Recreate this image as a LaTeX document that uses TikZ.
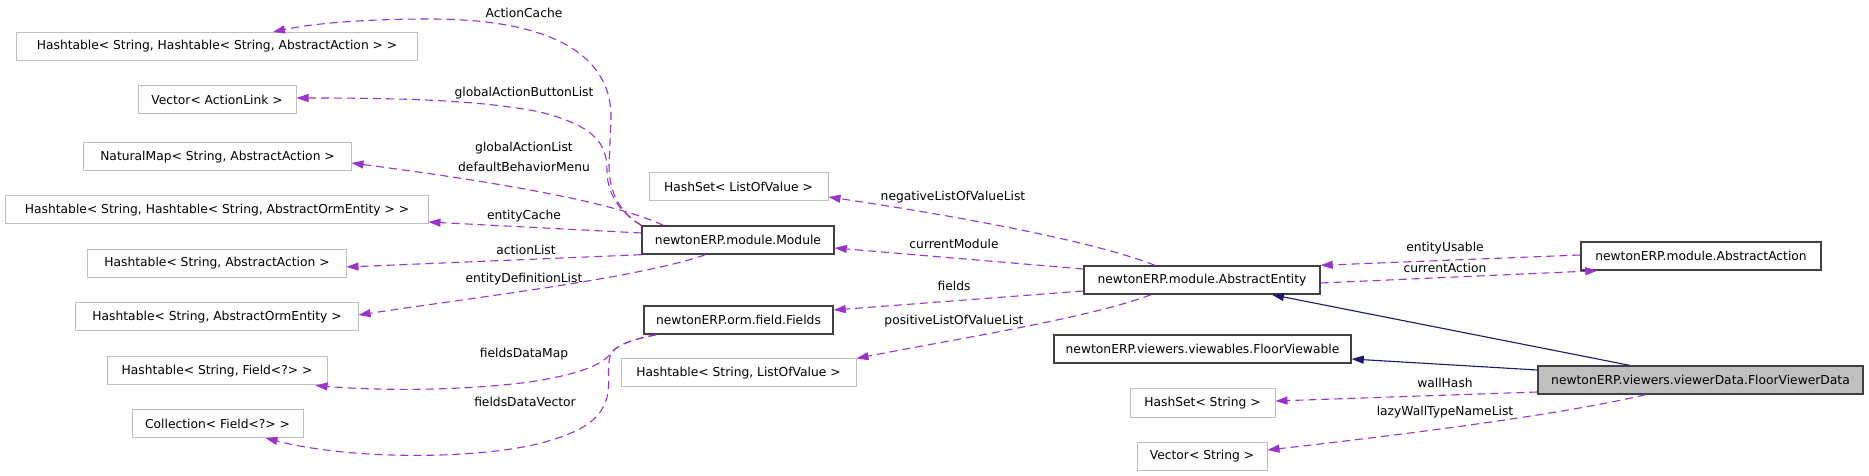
\documentclass[tikz,border=0pt]{standalone}
\usepackage{fontspec}
\setmainfont{DejaVu Sans}
\usetikzlibrary{arrows.meta,calc}
\definecolor{usecol}{RGB}{154,50,205}
\definecolor{inhcol}{RGB}{25,25,112}
\definecolor{extcol}{RGB}{191,191,191}
\definecolor{clscol}{RGB}{64,64,64}
\begin{document}
\begin{tikzpicture}[x=1bp,y=-1bp,
  every node/.style={font=\fontsize{12.3bp}{14bp}\selectfont, inner sep=0pt},
  box/.style={draw, minimum height=28bp, line width=1bp},
  extbox/.style={box, draw=extcol},
  clsbox/.style={box, draw=clscol, line width=1.4bp},
  usearrow/.style={draw=usecol, line width=1.1bp, dash pattern=on 8bp off 5bp,
    -{Triangle[length=12bp,width=8bp,fill=usecol]}},
  inharrow/.style={draw=inhcol, line width=1.1bp, -{Triangle[length=12bp,width=8bp,fill=inhcol]}},
  lbl/.style={text=black}
]
\fill[white] (0,0) rectangle (1869,476);
\useasboundingbox (0,0) rectangle (1869,476);

% external (gray) boxes
\node[extbox, minimum width=400bp] (hA) at (217,46.5) {Hashtable< String, Hashtable< String, AbstractAction > >};
\node[extbox, minimum width=158bp] (vAL) at (217,100) {Vector< ActionLink >};
\node[extbox, minimum width=267bp] (nM) at (217.5,157) {NaturalMap< String, AbstractAction >};
\node[extbox, minimum width=422bp] (hAOE) at (217,210) {Hashtable< String, Hashtable< String, AbstractOrmEntity > >};
\node[extbox, minimum width=258bp] (hSAA) at (217,263.5) {Hashtable< String, AbstractAction >};
\node[extbox, minimum width=282bp] (hSAOE) at (217,317) {Hashtable< String, AbstractOrmEntity >};
\node[extbox, minimum width=220bp] (hSF) at (217,371) {Hashtable< String, Field<?> >};
\node[extbox, minimum width=171bp] (col) at (217.5,423.5) {Collection< Field<?> >};
\node[extbox, minimum width=179bp] (hsLOV) at (738.5,187) {HashSet< ListOfValue >};
\node[extbox, minimum width=235bp] (htLOV) at (738.5,373) {Hashtable< String, ListOfValue >};
\node[extbox, minimum width=145bp] (hsS) at (1202.5,403) {HashSet< String >};
\node[extbox, minimum width=130bp] (vS) at (1202,456) {Vector< String >};

% class boxes
\node[clsbox, minimum width=192bp] (mod) at (738,240) {newtonERP.module.Module};
\node[clsbox, minimum width=189bp] (fld) at (738.5,320) {newtonERP.orm.field.Fields};
\node[clsbox, minimum width=236bp] (ae) at (1202,280) {newtonERP.module.AbstractEntity};
\node[clsbox, minimum width=297bp] (fv) at (1202.5,349) {newtonERP.viewers.viewables.FloorViewable};
\node[clsbox, minimum width=240bp] (aa) at (1701,256) {newtonERP.module.AbstractAction};
\node[clsbox, minimum width=325bp, fill=extcol] (fvd) at (1700.5,380) {newtonERP.viewers.viewerData.FloorViewerData};

% usage edges
\draw[usearrow] (mod.north west) .. controls (622,214) and (609,195) .. (609,165)
  -- (611,120) .. controls (613,60) and (560,19) .. (430,19)
  .. controls (360,19) and (310,24) .. ($(hA.north)+(56,0)$);
\draw[usearrow] (mod.north west) .. controls (620,212) and (607,195) .. (607,170)
  .. controls (607,140) and (590,125) .. (540,112)
  .. controls (480,100) and (400,98) .. ($(vAL.east)+(0,-2)$);
\draw[usearrow] ($(mod.north west)+(22,0)$) .. controls (620,205) and (520,185) .. ($(nM.east)+(0,6)$);
\draw[usearrow] ($(mod.west)+(0,-7)$) -- ($(hAOE.east)+(0,12)$);
\draw[usearrow] (mod.south west) -- ($(hSAA.east)+(0,3.5)$);
\draw[usearrow] ($(mod.south west)+(64,0)$) .. controls (640,278) and (470,298) .. ($(hSAOE.east)+(0,-2)$);
\draw[usearrow] ($(fld.south west)+(13,0)$) .. controls (630,340) and (618,345) .. (612,352)
  .. controls (603,365) and (580,374) .. (530,382)
  .. controls (450,392) and (370,390) .. ($(hSF.south east)+(-12,0)$);
\draw[usearrow] ($(fld.south west)+(13,0)$) .. controls (630,340) and (618,345) .. (612,352)
  .. controls (606,362) and (610,378) .. (608,392)
  .. controls (604,420) and (580,432) .. (545,442)
  .. controls (480,460) and (350,460) .. ($(col.south east)+(-38,0)$);
\draw[usearrow] ($(ae.north)+(-47,0)$) .. controls (1090,240) and (950,215) .. ($(hsLOV.east)+(0,10)$);
\draw[usearrow] ($(ae.west)+(0,-11)$) -- ($(mod.east)+(0,8)$);
\draw[usearrow] ($(ae.west)+(0,11)$) -- ($(fld.east)+(0,-10)$);
\draw[usearrow] ($(ae.south)+(-51,0)$) .. controls (1090,318) and (950,340) .. (htLOV.north east);
\draw[usearrow] ($(aa.west)+(0,-1)$) -- (ae.north east);
\draw[usearrow] ($(ae.east)+(0,3)$) -- ($(aa.south west)+(17,0)$);
\draw[usearrow] ($(fvd.west)+(0,12)$) -- ($(hsS.east)+(0,-2)$);
\draw[usearrow] ($(fvd.south)+(-55,0)$) .. controls (1560,415) and (1400,435) .. ($(vS.east)+(0,-6)$);

% inheritance edges
\draw[inharrow] ($(fvd.north)+(-71,0)$) -- ($(ae.south)+(70,0)$);
\draw[inharrow] ($(fvd.west)+(0,-10)$) -- ($(fv.east)+(0,10)$);

% labels
\node[lbl] (l1) at (524,13) {ActionCache};
\node[lbl] (l2) at (524,93) {globalActionButtonList};
\node[lbl] (l3) at (524,148) {globalActionList};
\node[lbl] (l4) at (524,167) {defaultBehaviorMenu};
\node[lbl] (l5) at (524,216) {entityCache};
\node[lbl] (l6) at (526,250) {actionList};
\node[lbl] (l7) at (524,279) {entityDefinitionList};
\node[lbl] (l8) at (524,354) {fieldsDataMap};
\node[lbl] (l9) at (525,402) {fieldsDataVector};
\node[lbl] (l10) at (953,197) {negativeListOfValueList};
\node[lbl] (l11) at (954,244) {currentModule};
\node[lbl] (l12) at (954,286) {fields};
\node[lbl] (l13) at (954,321) {positiveListOfValueList};
\node[lbl] (l14) at (1445,248) {entityUsable};
\node[lbl] (l15) at (1445,268) {currentAction};
\node[lbl] (l16) at (1445,383) {wallHash};
\node[lbl] (l17) at (1445,412) {lazyWallTypeNameList};
\end{tikzpicture}
\end{document}
